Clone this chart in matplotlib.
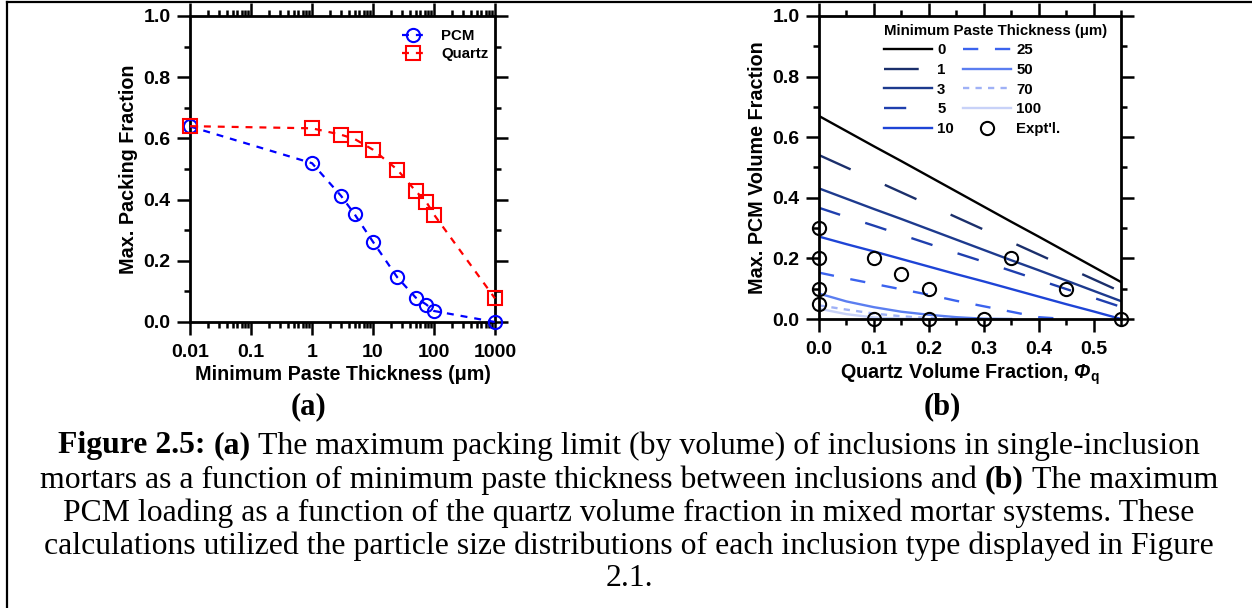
import numpy as np
import matplotlib
matplotlib.use("Agg")
import matplotlib.pyplot as plt
from matplotlib.lines import Line2D
from matplotlib.legend_handler import HandlerLine2D
from matplotlib.ticker import MultipleLocator, LogLocator, NullFormatter, FixedLocator, FixedFormatter

# ---------------- data: panel (a) ----------------
thickness_a = [0.01, 1, 3, 5, 10, 25, 50, 75, 100, 1000]
pcm_pack = [0.639, 0.519, 0.412, 0.352, 0.262, 0.146, 0.080, 0.057, 0.036, 0.0]
quartz_pack = [0.640, 0.633, 0.612, 0.598, 0.563, 0.498, 0.428, 0.392, 0.351, 0.077]
xticks_a = [0.01, 0.1, 1, 10, 100, 1000]
xticklabels_a = ["0.01", "0.1", "1", "10", "100", "1000"]

# ---------------- data: panel (b) ----------------
quartz_frac = [0, 0.05, 0.1, 0.15, 0.2, 0.25, 0.3, 0.35, 0.4, 0.45, 0.5, 0.55]
nan = np.nan
pcm_t0 = [0.670, 0.620, 0.570, 0.521, 0.471, 0.421, 0.371, 0.321, 0.272, 0.222, 0.172, 0.122]
pcm_t1 = [0.541, 0.500, 0.459, 0.418, 0.377, 0.336, 0.295, 0.254, 0.213, 0.172, 0.131, 0.090]
pcm_t3 = [0.431, 0.397, 0.363, 0.330, 0.296, 0.262, 0.228, 0.194, 0.161, 0.127, 0.093, 0.059]
pcm_t5 = [0.367, 0.337, 0.308, 0.278, 0.248, 0.218, 0.189, 0.159, 0.129, 0.099, 0.070, 0.040]
pcm_t10 = [0.272, 0.247, 0.223, 0.198, 0.173, 0.148, 0.124, 0.099, 0.074, 0.049, 0.025, 0.0]
pcm_t25 = [0.153, 0.134, 0.116, 0.098, 0.080, 0.060, 0.042, 0.024, 0.006, 0.0, nan, nan]
pcm_t50 = [0.084, 0.058, 0.039, 0.024, 0.014, 0.006, 0.001, 0.0, nan, nan, nan, nan]
pcm_t70 = [0.045, 0.031, 0.018, 0.009, 0.003, 0.0, nan, nan, nan, nan, nan, nan]
pcm_t100 = [0.034, 0.016, 0.005, 0.001, 0.0, nan, nan, nan, nan, nan, nan, nan]
thickness_labels_b = ["0", "1", "3", "5", "10", "25", "50", "70", "100"]

expt_quartz = [0, 0, 0, 0, 0.1, 0.15, 0.2, 0.35, 0.45, 0.1, 0.2, 0.3, 0.55]
expt_pcm = [0.30, 0.20, 0.10, 0.05, 0.20, 0.15, 0.10, 0.20, 0.10, 0.0, 0.0, 0.0, 0.0]

# ---------------- style ----------------
plt.rcParams['font.family'] = ['Liberation Sans', 'DejaVu Sans']
plt.rcParams['font.weight'] = 'bold'
plt.rcParams['lines.scale_dashes'] = False
plt.rcParams['mathtext.fontset'] = 'custom'
plt.rcParams['mathtext.rm'] = 'Liberation Sans:bold'
plt.rcParams['mathtext.bf'] = 'Liberation Sans:bold'
plt.rcParams['mathtext.it'] = 'Liberation Sans:bold:italic'
plt.rcParams['mathtext.bfit'] = 'Liberation Sans:bold:italic'

W, H = 1252, 608
fig = plt.figure(figsize=(W / 100, H / 100), dpi=100)

def px_axes(l, t, r, b):
    return fig.add_axes([l / W, 1 - b / H, (r - l) / W, (b - t) / H])

ax_a = px_axes(190, 16, 495, 322)
ax_b = px_axes(819, 16, 1121, 319)

TICK_FS = 14
LABEL_FS = 14.2

def style_axes(ax):
    for s in ax.spines.values():
        s.set_linewidth(2.0)
    ax.tick_params(which='both', direction='out', top=True, right=True,
                   labeltop=False, labelright=False, width=1.8,
                   labelsize=TICK_FS)
    ax.tick_params(which='major', length=9.5)
    ax.tick_params(which='minor', length=4.5)
    ax.tick_params(axis='x', which='both', pad=6)
    ax.tick_params(axis='y', which='both', pad=4.5)
    for lab in ax.get_xticklabels() + ax.get_yticklabels():
        lab.set_fontweight('bold')

# ---------------- panel (a) ----------------
class EndMarkerHandler(HandlerLine2D):
    def get_xdata(self, legend, xdescent, ydescent, width, height, fontsize):
        xdata = np.array([-xdescent, -xdescent + width])
        return xdata, np.array([-xdescent + width])

ax_a.plot(thickness_a, pcm_pack, color='#0000ff', ls=(0, (5, 5)), lw=1.6,
          marker='o', ms=9.5, mfc='none', mew=1.5, clip_on=False, label='PCM', zorder=3)
ax_a.plot(thickness_a, quartz_pack, color='#ff0000', ls=(0, (5, 5)), lw=1.6,
          marker='s', ms=10, mfc='none', mew=1.5, clip_on=False, label='Quartz', zorder=3)
ax_a.set_xscale('log')
ax_a.set_xlim(0.01, 1000)
ax_a.set_ylim(0, 1.0)
ax_a.xaxis.set_major_locator(FixedLocator(xticks_a))
ax_a.xaxis.set_major_formatter(FixedFormatter(xticklabels_a))
ax_a.xaxis.set_minor_locator(LogLocator(base=10, subs=np.arange(2, 10), numticks=50))
ax_a.xaxis.set_minor_formatter(NullFormatter())
ax_a.yaxis.set_major_locator(MultipleLocator(0.2))
ax_a.yaxis.set_minor_locator(MultipleLocator(0.1))
ax_a.yaxis.set_major_formatter(plt.FuncFormatter(lambda v, p: f"{v:.1f}"))
style_axes(ax_a)
ax_a.set_xlabel("Minimum Paste Thickness (μm)", fontsize=LABEL_FS, fontweight='bold', labelpad=3.5)
ax_a.set_ylabel("Max. Packing Fraction", fontsize=LABEL_FS, fontweight='bold', labelpad=4)
leg_a = ax_a.legend(loc='upper left', bbox_to_anchor=(0.695, 0.958), frameon=False,
                    fontsize=10.8, handlelength=1.5, handletextpad=1.1, labelspacing=0.3,
                    borderpad=0, borderaxespad=0,
                    handler_map={Line2D: EndMarkerHandler()})
for t in leg_a.get_texts():
    t.set_fontweight('bold')

# ---------------- panel (b) ----------------
series_b = [pcm_t0, pcm_t1, pcm_t3, pcm_t5, pcm_t10, pcm_t25, pcm_t50, pcm_t70, pcm_t100]
colors_b = ['#000000', '#1b2f6b', '#1d3a8e', '#1f3fae', '#1e44d6', '#3b63ee', '#5b7ef0', '#9fb1f6', '#c8d2f8']
styles_b = ['-', (0, (25, 27)), '-', (0, (16, 19)), '-', (0, (11, 12)), '-', (0, (4.5, 4.5)), '-']
handles = []
for yv, c, s, lab in zip(series_b, colors_b, styles_b, thickness_labels_b):
    h, = ax_b.plot(quartz_frac, yv, color=c, ls=s, lw=1.7, label=lab, zorder=2)
    handles.append(h)
hx, = ax_b.plot(expt_quartz, expt_pcm, ls='none', marker='o', ms=9.5, mfc='none',
                mec='black', mew=1.5, clip_on=False, label="Expt'l.", zorder=4)
handles.append(hx)
ax_b.set_xlim(0, 0.55)
ax_b.set_ylim(0, 1.0)
ax_b.xaxis.set_major_locator(MultipleLocator(0.1))
ax_b.xaxis.set_minor_locator(MultipleLocator(0.05))
ax_b.yaxis.set_major_locator(MultipleLocator(0.2))
ax_b.yaxis.set_minor_locator(MultipleLocator(0.1))
ax_b.xaxis.set_major_formatter(plt.FuncFormatter(lambda v, p: f"{v:.1f}"))
ax_b.yaxis.set_major_formatter(plt.FuncFormatter(lambda v, p: f"{v:.1f}"))
style_axes(ax_b)
ax_b.set_xlabel(r"Quartz Volume Fraction, $\mathbfit{\Phi}_{\mathbf{q}}$",
                fontsize=LABEL_FS, fontweight='bold', labelpad=3)
ax_b.set_ylabel("Max. PCM Volume Fraction", fontsize=LABEL_FS, fontweight='bold', labelpad=4)
leg_b = ax_b.legend(handles=handles, ncol=2, loc='upper left', bbox_to_anchor=(0.215, 0.975),
                    frameon=False, fontsize=10.8, title="Minimum Paste Thickness (μm)",
                    title_fontproperties={'weight': 'bold', 'size': 10.8},
                    alignment='left',
                    handlelength=3.2, handletextpad=0.35, columnspacing=0.6,
                    labelspacing=0.38, borderpad=0, borderaxespad=0, numpoints=1)
for t in leg_b.get_texts():
    t.set_fontweight('bold')

# ---------------- panel labels ----------------
SERIF = ['Liberation Serif', 'DejaVu Serif']
fig.text(309 / W, 1 - 407 / H, "(a)", fontsize=22, fontweight='bold', family=SERIF,
         ha='center', va='center')
fig.text(942 / W, 1 - 407 / H, "(b)", fontsize=22, fontweight='bold', family=SERIF,
         ha='center', va='center')

# ---------------- caption with mixed bold ----------------
CAP_FS = 22.9
caption_lines = [
    [("Figure 2.5:", 'bold'), ("(a)", 'bold'),
     ("The maximum packing limit (by volume) of inclusions in single-inclusion", 'normal')],
    [("mortars as a function of minimum paste thickness between inclusions and", 'normal'),
     ("(b)", 'bold'), ("The maximum", 'normal')],
    [("PCM loading as a function of the quartz volume fraction in mixed mortar systems. These", 'normal')],
    [("calculations utilized the particle size distributions of each inclusion type displayed in Figure", 'normal')],
    [("2.1.", 'normal')],
]
caption_y = [446, 480, 513, 546, 578]
renderer = fig.canvas.get_renderer()

def measure(s, weight):
    t = fig.text(0, 0, s, fontsize=CAP_FS, family=SERIF, fontweight=weight)
    w = t.get_window_extent(renderer).width
    t.remove()
    return w

space_w = measure("x x", 'normal') - measure("xx", 'normal')
center_x = 629
for segs, yc in zip(caption_lines, caption_y):
    widths = [measure(s, w) for s, w in segs]
    total = sum(widths) + space_w * (len(segs) - 1)
    x = center_x - total / 2
    for (s, w), wd in zip(segs, widths):
        fig.text(x / W, 1 - yc / H, s, fontsize=CAP_FS, family=SERIF, fontweight=w,
                 ha='left', va='center')
        x += wd + space_w

# ---------------- figure border ----------------
fig.add_artist(Line2D([7 / W, 7 / W], [0, 1 - 2 / H], color='black', lw=1.6, transform=fig.transFigure))
fig.add_artist(Line2D([7 / W, 1], [1 - 2 / H, 1 - 2 / H], color='black', lw=1.6, transform=fig.transFigure))

fig.savefig("out.png", dpi=100)
